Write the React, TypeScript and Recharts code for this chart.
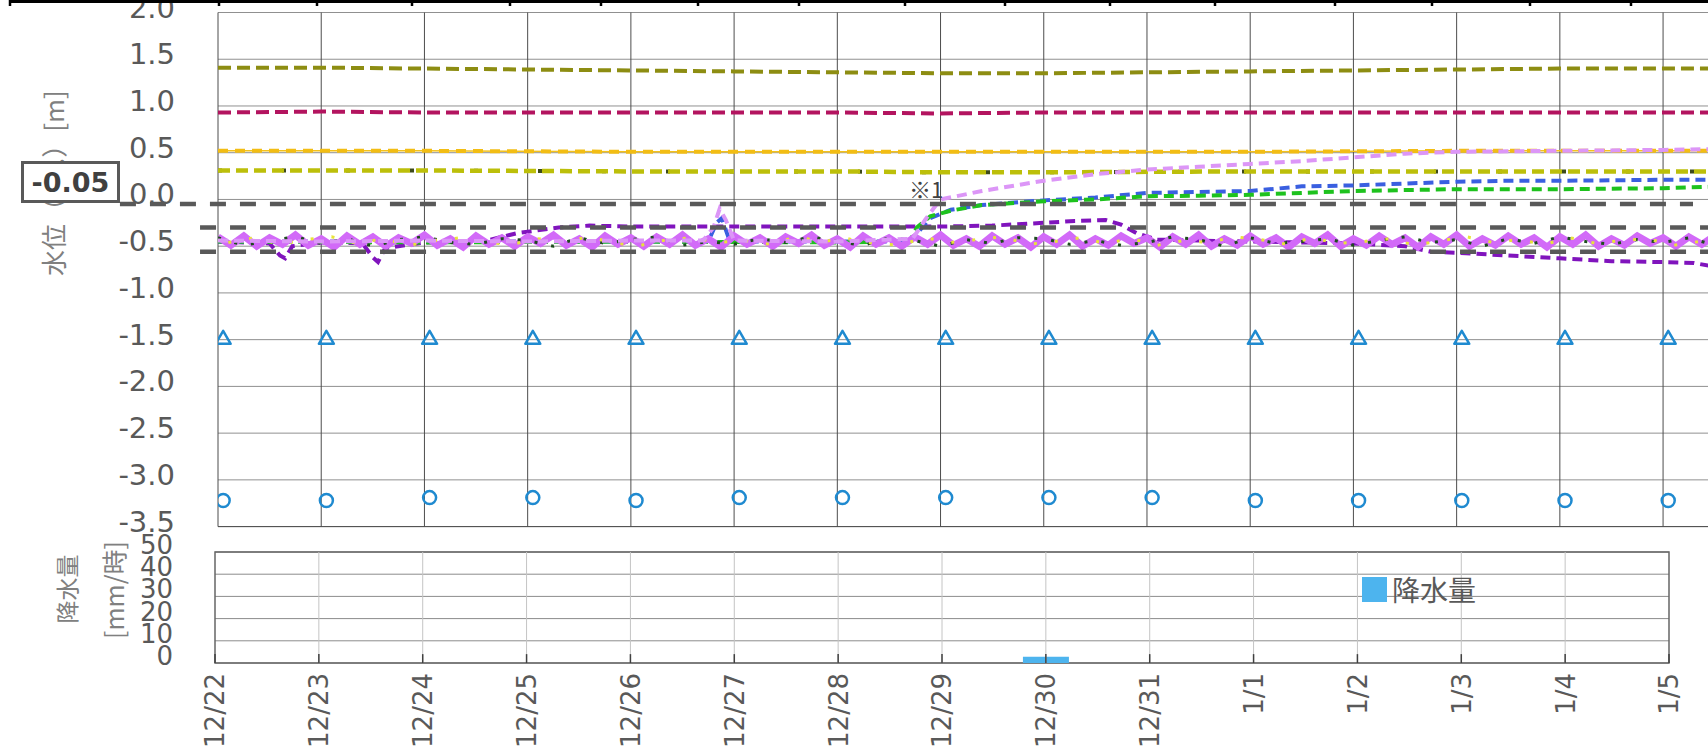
import React from 'react';
import {
  ComposedChart, Line, Scatter, Bar, XAxis, YAxis, CartesianGrid,
  ReferenceLine, ReferenceArea, Legend,
} from 'recharts';

type Pt = [number, number];

// day index 0 = 12/22 ... 14 = 1/5
const dayLabels = ['12/22', '12/23', '12/24', '12/25', '12/26', '12/27', '12/28', '12/29',
  '12/30', '12/31', '1/1', '1/2', '1/3', '1/4', '1/5'];
const dayTicks = dayLabels.map((_, i) => i);
const levelTicks = [-3.5, -3, -2.5, -2, -1.5, -1, -0.5, 0, 0.5, 1, 1.5, 2];
const rainTicks = [0, 10, 20, 30, 40, 50];

// water level series [day, m]
const olive: Pt[] = [[0, 1.41], [1, 1.41], [2, 1.40], [3, 1.39], [4, 1.38], [5, 1.37], [6, 1.36], [7, 1.35],
  [8, 1.35], [9, 1.36], [10, 1.37], [11, 1.38], [12, 1.39], [13, 1.40], [14, 1.40], [14.6, 1.40]];
const crimson: Pt[] = [[0, 0.93], [1, 0.94], [2, 0.93], [4, 0.93], [6, 0.93], [7, 0.92], [8, 0.93],
  [10, 0.93], [12, 0.93], [14, 0.93], [14.6, 0.93]];
const gold: Pt[] = [[0, 0.52], [2, 0.52], [4, 0.51], [6, 0.51], [8, 0.51], [10, 0.51], [12, 0.52], [14.6, 0.52]];
const yellowGreen: Pt[] = [[0, 0.31], [2, 0.31], [4, 0.30], [6, 0.30], [7, 0.29], [8, 0.29], [10, 0.30],
  [12, 0.30], [14.6, 0.30]];
const purple: Pt[] = [[0, -0.45], [0.5, -0.47], [0.6, -0.60], [0.65, -0.63], [0.72, -0.50], [1.0, -0.46],
  [1.4, -0.47], [1.5, -0.62], [1.55, -0.67], [1.62, -0.52], [2, -0.46], [2.6, -0.44], [2.9, -0.36],
  [3.3, -0.30], [3.6, -0.28], [4, -0.29], [5, -0.29], [6, -0.29], [7, -0.29], [7.5, -0.28], [8.0, -0.25],
  [8.3, -0.23], [8.6, -0.22], [8.75, -0.27], [8.9, -0.36], [9.1, -0.43], [9.5, -0.44], [10, -0.45],
  [10.5, -0.46], [11, -0.47], [11.5, -0.50], [11.75, -0.56], [12, -0.57], [12.5, -0.60], [13, -0.63],
  [13.5, -0.66], [14, -0.67], [14.3, -0.68], [14.6, -0.74]];
const lilac: Pt[] = [[0, -0.44], [1, -0.45], [2, -0.44], [3, -0.45], [4, -0.44], [4.7, -0.44], [4.8, -0.30],
  [4.86, -0.10], [4.92, -0.22], [5.0, -0.44], [6, -0.45], [6.73, -0.42], [6.85, -0.22], [6.93, -0.10],
  [7.0, 0.0], [7.4, 0.09], [8, 0.20], [8.5, 0.27], [9, 0.32], [9.5, 0.35], [10, 0.38], [10.5, 0.41],
  [11, 0.45], [11.5, 0.49], [12, 0.51], [13, 0.52], [14, 0.53], [14.6, 0.54]];
const blue: Pt[] = [[0, -0.45], [2, -0.45], [4, -0.45], [4.75, -0.45], [4.83, -0.25], [4.88, -0.20],
  [4.95, -0.42], [5, -0.45], [6.7, -0.45], [6.8, -0.33], [6.9, -0.20], [7.1, -0.11], [7.4, -0.06],
  [8, -0.01], [8.5, 0.02], [9, 0.07], [9.5, 0.08], [10, 0.09], [10.5, 0.14], [11, 0.15], [11.5, 0.17],
  [12, 0.19], [12.5, 0.20], [13, 0.20], [14, 0.21], [14.6, 0.21]];
const green: Pt[] = [[0, -0.45], [2, -0.46], [4, -0.45], [6, -0.46], [6.7, -0.45], [6.77, -0.30],
  [6.9, -0.18], [7.1, -0.12], [7.4, -0.06], [8, -0.02], [8.5, 0.0], [9, 0.035], [9.5, 0.04], [10, 0.05],
  [10.5, 0.07], [11, 0.09], [11.5, 0.10], [12, 0.11], [13, 0.11], [14, 0.12], [14.6, 0.14]];

// noisy band, one reading every 3 hours
const bandViolet = [
  -0.40, -0.49, -0.39, -0.50, -0.41, -0.48, -0.38, -0.49,
  -0.42, -0.51, -0.39, -0.48, -0.40, -0.50, -0.41, -0.47,
  -0.38, -0.49, -0.42, -0.51, -0.39, -0.48, -0.41, -0.50,
  -0.40, -0.47, -0.38, -0.49, -0.42, -0.51, -0.39, -0.48,
  -0.41, -0.50, -0.40, -0.48, -0.38, -0.49, -0.42, -0.51,
  -0.39, -0.48, -0.41, -0.50, -0.40, -0.47, -0.38, -0.49,
  -0.42, -0.51, -0.39, -0.48, -0.41, -0.50, -0.40, -0.48,
  -0.38, -0.49, -0.42, -0.50, -0.39, -0.48, -0.41, -0.51,
  -0.40, -0.48, -0.38, -0.50, -0.42, -0.49, -0.39, -0.47,
  -0.41, -0.51, -0.40, -0.48, -0.38, -0.50, -0.42, -0.49,
  -0.39, -0.48, -0.41, -0.51, -0.40, -0.47, -0.38, -0.50,
  -0.42, -0.49, -0.39, -0.48, -0.41, -0.51, -0.40, -0.48,
  -0.38, -0.50, -0.42, -0.49, -0.39, -0.48, -0.41, -0.51,
  -0.40, -0.48, -0.38, -0.50, -0.42, -0.49, -0.39, -0.47,
  -0.41, -0.50, -0.40, -0.48, -0.39, -0.49,
];
// other gauges inside the band, one reading every 6 hours
const bandDarkGreen = [
  -0.41, -0.49, -0.44, -0.40, -0.47, -0.42, -0.50, -0.43, -0.40, -0.46, -0.48, -0.42,
  -0.44, -0.50, -0.41, -0.47, -0.43, -0.40, -0.49, -0.45, -0.48, -0.42, -0.46, -0.40,
  -0.45, -0.49, -0.41, -0.44, -0.50, -0.43, -0.47, -0.41, -0.42, -0.48, -0.44, -0.49,
  -0.46, -0.40, -0.43, -0.50, -0.41, -0.47, -0.45, -0.42, -0.49, -0.44, -0.40, -0.46,
  -0.43, -0.50, -0.42, -0.47, -0.40, -0.45, -0.48, -0.43, -0.46, -0.41, -0.49,
];
const bandYellow = [
  -0.46, -0.41, -0.48, -0.43, -0.40, -0.47, -0.42, -0.49, -0.44, -0.41, -0.46, -0.48,
  -0.42, -0.45, -0.40, -0.47, -0.49, -0.43, -0.41, -0.46, -0.44, -0.48, -0.40, -0.45,
  -0.42, -0.47, -0.49, -0.41, -0.46, -0.43, -0.40, -0.48, -0.45, -0.41, -0.47, -0.42,
  -0.49, -0.44, -0.46, -0.40, -0.43, -0.48, -0.41, -0.47, -0.45, -0.42, -0.49, -0.44,
  -0.40, -0.46, -0.43, -0.48, -0.41, -0.47, -0.44, -0.42, -0.49, -0.45, -0.40,
];

// daily check points
const triangleLevels = [-1.48, -1.48, -1.48, -1.48, -1.48, -1.48, -1.48, -1.48, -1.48, -1.48, -1.48,
  -1.48, -1.48, -1.48, -1.48];
const circleLevels = [-3.22, -3.22, -3.19, -3.19, -3.22, -3.19, -3.19, -3.19, -3.19, -3.19, -3.22,
  -3.22, -3.22, -3.22, -3.22];

// control levels
const thresholds = [-0.05, -0.30, -0.56];

// rainfall [mm/h]
const rainfall = [0, 0, 0, 0, 0, 0, 0, 0, 2.8, 0, 0, 0, 0, 0, 0];

const latin = '"DejaVu Sans", "Noto Sans CJK JP", sans-serif';
const cjk = '"Noto Sans CJK JP", "DejaVu Sans", sans-serif';
const tickColor = '#595959';

const toXY = (pts: Pt[]) => pts.map(([x, y]) => ({ x, y }));
const series = (vals: number[], step: number, shift = 0) => vals.map((y, i) => ({ x: i * step + shift, y }));

const Triangle = (props: any) => {
  const { cx, cy } = props;
  return <path d={`M${cx},${cy - 7} L${cx + 7.5},${cy + 6} L${cx - 7.5},${cy + 6} Z`}
    fill="none" stroke="#1f8ad0" strokeWidth={2.5} strokeLinejoin="round" />;
};
const Ring = (props: any) => {
  const { cx, cy } = props;
  return <circle cx={cx} cy={cy} r={6.5} fill="none" stroke="#1f8ad0" strokeWidth={2.5} />;
};

const dashed = (color: string, w: number, dash: string) => ({
  stroke: color, strokeWidth: w, strokeDasharray: dash, dot: false as const,
  isAnimationActive: false, activeDot: false as const,
});

const LevelChart = () => (
  <ComposedChart width={1725} height={540} margin={{ top: 12.5, right: 0, bottom: 13.4, left: 0 }}>
    <XAxis type="number" dataKey="x" domain={[0, 14.6]} hide allowDataOverflow />
    <YAxis type="number" domain={[-3.5, 2]} ticks={levelTicks} interval={0} width={218}
      axisLine={false} tickLine={false} tickSize={0} tickMargin={43} allowDataOverflow
      tick={(p: any) => (
        <text x={p.x} y={p.y + 5} textAnchor="end" fontSize={29} fill={tickColor} fontFamily={latin}>
          {Number(p.payload.value).toFixed(1)}
        </text>
      )} />
    <CartesianGrid vertical={false} stroke="#909090" />
    {dayTicks.map((d) => <ReferenceLine key={`v${d}`} x={d} stroke="#4d4d4d" />)}
    <ReferenceLine y={-3.5} stroke="#4d4d4d" />

    <Line data={toXY(olive)} dataKey="y" {...dashed('#8d8d12', 4, '13 6')} />
    <Line data={toXY(crimson)} dataKey="y" {...dashed('#b3145f', 4, '13 6')} />
    <Line data={toXY(gold)} dataKey="y" {...dashed('#f4c21c', 1.5, '')} />
    <Line data={toXY(gold)} dataKey="y" {...dashed('#f2bd14', 4, '10 7')} />
    <Line data={toXY(yellowGreen)} dataKey="y" {...dashed('#3d4a1a', 4, '4 60')} />
    <Line data={toXY(yellowGreen)} dataKey="y" {...dashed('#bcbf0a', 4.5, '12 6')} />

    <Line data={toXY(purple)} dataKey="y" {...dashed('#8014bd', 4, '10 6')} />
    <Line data={toXY(blue)} dataKey="y" {...dashed('#3a5fe0', 4, '10 6')} />
    <Line data={toXY(green)} dataKey="y" {...dashed('#1ec21e', 4, '10 6')} />
    <Line data={series(bandViolet, 0.125)} dataKey="y" {...dashed('#d26af8', 7, '')} />
    <Line data={series(bandDarkGreen, 0.25)} dataKey="y" {...dashed('#1d4d1d', 3, '3 14')} />
    <Line data={series(bandYellow, 0.25, 0.1)} dataKey="y" {...dashed('#e8e43a', 3, '3 18')} />
    <Line data={toXY(lilac)} dataKey="y" {...dashed('#dc96f7', 4, '10 6')} />

    <ReferenceLine segment={[{ x: -0.95, y: thresholds[0] }, { x: 14.29, y: thresholds[0] }]}
      stroke="#595959" strokeWidth={4.5} strokeDasharray="16 14" ifOverflow="visible" />
    {thresholds.slice(1).map((t) => (
      <ReferenceLine key={`t${t}`} segment={[{ x: -0.174, y: t }, { x: 14.6, y: t }]}
        stroke="#595959" strokeWidth={4.5} strokeDasharray="16 14" ifOverflow="visible" />
    ))}

    <Scatter data={triangleLevels.map((y, i) => ({ x: i + 0.05, y }))} dataKey="y"
      shape={<Triangle />} isAnimationActive={false} />
    <Scatter data={circleLevels.map((y, i) => ({ x: i + 0.05, y }))} dataKey="y"
      shape={<Ring />} isAnimationActive={false} />
  </ComposedChart>
);

const RainLegend = (props: any) => {
  const items = props.payload || [];
  return (
    <div>
      {items.map((it: any) => (
        <div key={it.value} style={{ display: 'flex', alignItems: 'center', height: 25, lineHeight: '25px',
          fontSize: 28, color: tickColor, fontFamily: cjk, whiteSpace: 'nowrap' }}>
          <span style={{ display: 'inline-block', width: 25, height: 25, background: it.color, marginRight: 5 }} />
          {it.value}
        </div>
      ))}
    </div>
  );
};

const rainRows = dayTicks.map((d) => ({ x: d, rain: rainfall[d] }));

const RainChart = () => (
  <ComposedChart width={1705} height={227} data={rainRows} margin={{ top: 32, right: 36, bottom: 0, left: 0 }}>
    <XAxis type="number" dataKey="x" domain={[0, 14]} ticks={dayTicks} interval={0} height={84}
      axisLine={false} tickLine={false} tickSize={0} tickMargin={10} allowDataOverflow
      tick={(p: any) => (
        <text x={p.x} y={p.y} dy="0.36em" transform={`rotate(-90 ${p.x} ${p.y})`} textAnchor="end"
          fontSize={26} fill={tickColor} fontFamily={latin}>
          {dayLabels[p.payload.value]}
        </text>
      )} />
    <YAxis type="number" domain={[0, 50]} ticks={rainTicks} interval={0} width={215}
      axisLine={false} tickLine={false} tickSize={0} tickMargin={42}
      tick={(p: any) => (
        <text x={p.x} y={p.y + 2} textAnchor="end" fontSize={26} fill={tickColor} fontFamily={latin}>
          {p.payload.value}
        </text>
      )} />
    <CartesianGrid vertical={false} stroke="#8c8c8c" />
    {dayTicks.slice(1, 14).map((d) => <ReferenceLine key={`g${d}`} x={d} stroke="#c4c4c4" />)}
    {dayTicks.map((d) => (
      <ReferenceLine key={`k${d}`} segment={[{ x: d, y: 0 }, { x: d, y: 4 }]} stroke="#404040" strokeWidth={1.5} />
    ))}
    <ReferenceArea x1={0} x2={14} y1={0} y2={50} fill="none" fillOpacity={0} stroke="#666" strokeWidth={1.5} />
    <Bar dataKey="rain" name="降水量" fill="#4db4ee" barSize={46} isAnimationActive={false} />
    <Legend layout="vertical" verticalAlign="middle" align="center" content={<RainLegend />}
      wrapperStyle={{ left: 1362, top: 57, width: 'auto', height: 'auto' }} />
  </ComposedChart>
);

const frameTicks = [10, 219, 317, 412, 510, 601, 698, 799, 905, 1005, 1110, 1215, 1335, 1432, 1530, 1631];

export default function App() {
  return (
    <div style={{ position: 'fixed', left: 0, top: 0, width: 1708, height: 747, overflow: 'hidden', background: '#fff' }}>
      <div style={{ position: 'absolute', left: 0, top: 0 }}>
        <LevelChart />
      </div>
      <div style={{ position: 'absolute', left: 0, top: 520 }}>
        <RainChart />
      </div>
      <svg width={1708} height={747} style={{ position: 'absolute', left: 0, top: 0, pointerEvents: 'none' }}>
        <line x1={10} y1={1.5} x2={1708} y2={1.5} stroke="#000" strokeWidth={3} />
        {frameTicks.map((fx) => <line key={fx} x1={fx} y1={0} x2={fx} y2={6} stroke="#000" strokeWidth={2.5} />)}
        <text x={55} y={183} dy="0.35em" transform="rotate(-90 55 183)" textAnchor="middle"
          fontSize={26} fill="#808080" fontFamily={cjk}>水位（T.P.）[m]</text>
        <text x={68} y={589} dy="0.35em" transform="rotate(-90 68 589)" textAnchor="middle"
          fontSize={23} fill="#808080" fontFamily={cjk}>降水量</text>
        <text x={115} y={590} dy="0.35em" transform="rotate(-90 115 590)" textAnchor="middle"
          fontSize={25} fill="#808080" fontFamily={cjk}>[mm/時]</text>
        <text x={909} y={198} fontSize={22} fill="#404040" fontFamily={cjk}>※1</text>
      </svg>
      <div style={{ position: 'absolute', left: 21, top: 161, width: 99, height: 42, boxSizing: 'border-box',
        border: '3px solid #595959', background: '#fff', display: 'flex', alignItems: 'center',
        justifyContent: 'center', fontFamily: latin, fontWeight: 700, fontSize: 27, color: '#404040' }}>
        -0.05
      </div>
    </div>
  );
}
